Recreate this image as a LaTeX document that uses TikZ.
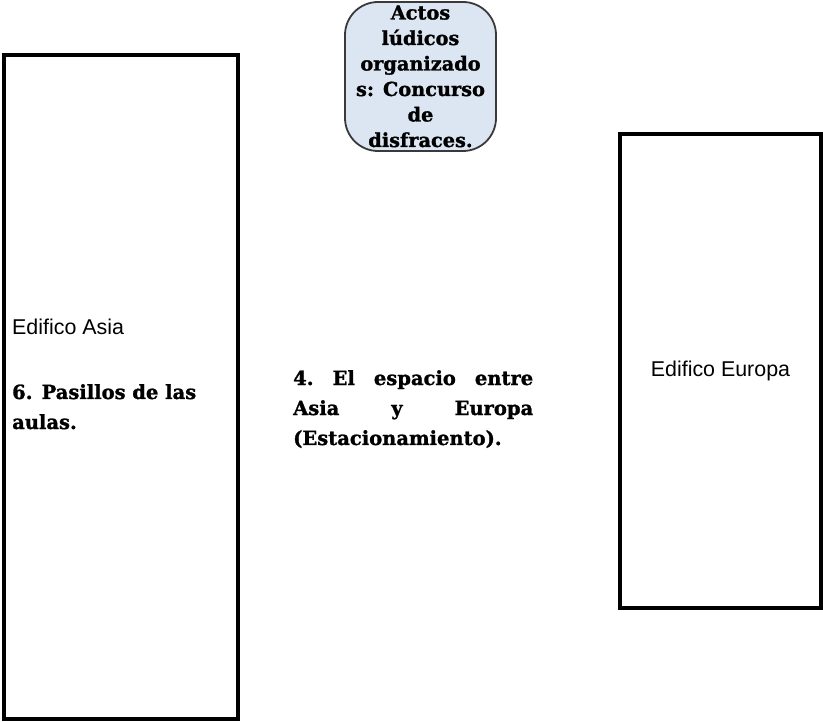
\documentclass[tikz,border=0pt]{standalone}
\usepackage{fontspec}
\setmainfont{DejaVu Serif}[BoldFeatures={FakeBold=1.3}]
\newfontfamily\arialf{Liberation Sans}
\definecolor{boxfill}{HTML}{DCE6F2}
\definecolor{boxline}{HTML}{3A3A3A}
\begin{document}
\begin{tikzpicture}[x=1pt,y=-1pt,
  building/.style={draw=black,line width=3.3pt,fill=white},
  sanslbl/.style={font=\arialf\fontsize{21.4}{26}\selectfont,inner sep=0pt,anchor=base west},
  boldlbl/.style={font=\bfseries\fontsize{19.5}{30}\selectfont,inner sep=0pt,anchor=base west},
  toplbl/.style={font=\bfseries\fontsize{19.3}{25.6}\selectfont,inner sep=0pt,anchor=base}]
\useasboundingbox (0,0) rectangle (823,722);
% buildings
\draw[building] (4,55) rectangle (238,719);
\node (asia) at (121,387) {};
\draw[building] (620,134) rectangle (821,608);
\node (europa) at (720,371) {};
% top rounded box
\draw[draw=boxline,line width=1.8pt,fill=boxfill,rounded corners=33pt] (345,2) rectangle (496,151);
\node[toplbl] (t1) at (420.5,19.5) {Actos};
\node[toplbl] (t2) at (420.5,45) {lúdicos};
\node[toplbl] (t3) at (420.5,70.5) {organizado};
\node[toplbl] (t4) at (420.5,96) {s: Concurso};
\node[toplbl] (t5) at (420.5,121.5) {de};
\node[toplbl] (t6) at (420.5,147) {disfraces.};
% labels
\node[sanslbl] (asianame) at (12,335) {Edifico Asia};
\node[boldlbl] (pas1) at (12,399) {6. Pasillos de las};
\node[boldlbl] (pas2) at (12,429) {aulas.};
\node[sanslbl,anchor=base] (europaname) at (720.5,377) {Edifico Europa};
\node[boldlbl] (esp1) at (293,385) {\makebox[240pt][s]{4.\hfill El\hfill espacio\hfill entre}};
\node[boldlbl] (esp2) at (293,415) {\makebox[240pt][s]{Asia\hfill y\hfill Europa}};
\node[boldlbl] (esp3) at (293,445) {(Estacionamiento).};
\end{tikzpicture}
\end{document}
